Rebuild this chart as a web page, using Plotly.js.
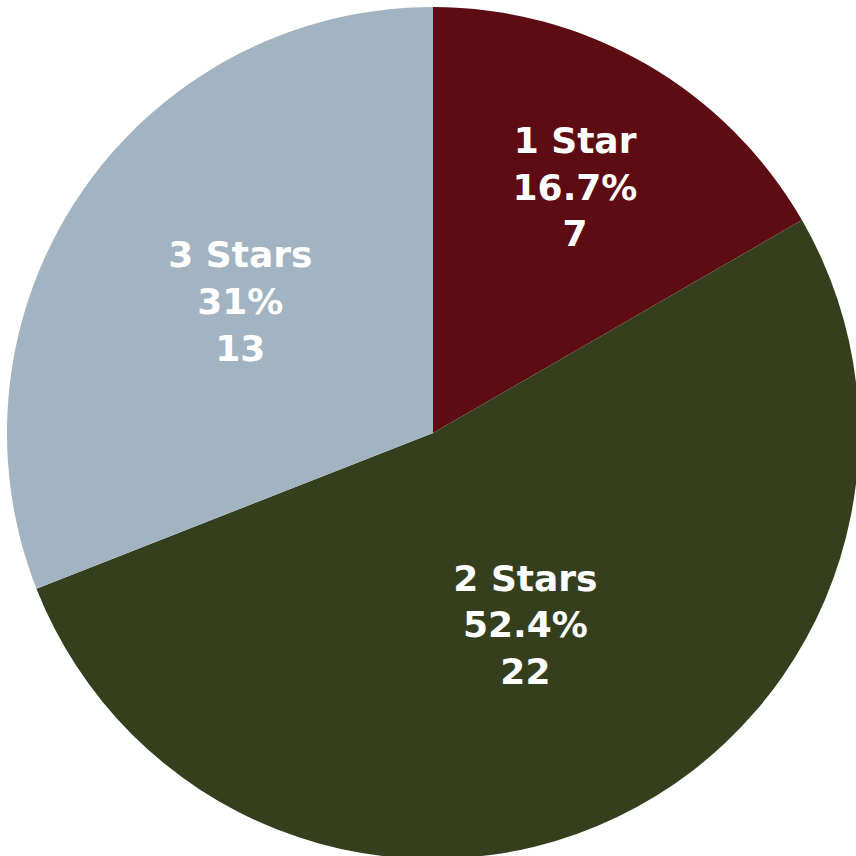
<!DOCTYPE html>
<html>
<head>
<meta charset="utf-8">
<script src="https://cdn.plot.ly/plotly-3.0.1.min.js"></script>
<style>
  html, body { margin: 0; padding: 0; background: #ffffff; overflow: hidden; }
  #chart { width: 859px; height: 859px; }
</style>
</head>
<body>
<div id="chart"></div>
<script>
// Star-rating breakdown
const ratingLabels = ["1 Star", "2 Stars", "3 Stars"];
const ratingCounts = [7, 22, 13];
const sliceColors = ["#5c0c12", "#353f1e", "#a2b3c2"];

Plotly.newPlot("chart", [{
  type: "pie",
  labels: ratingLabels,
  values: ratingCounts,
  sort: false,
  direction: "clockwise",
  rotation: 0,
  marker: { colors: sliceColors, line: { width: 0 } },
  texttemplate: "%{label}<br>%{percent}<br>%{value}",
  textposition: "inside",
  insidetextorientation: "horizontal",
  textfont: { family: "DejaVu Sans, Verdana, sans-serif", size: 36, color: "#ffffff", weight: "bold" },
  hoverinfo: "none"
}], {
  width: 859,
  height: 859,
  margin: { l: 7, r: 0, t: 7, b: 0 },
  showlegend: false,
  paper_bgcolor: "#ffffff"
}, { displayModeBar: false, staticPlot: true });
</script>
</body>
</html>
